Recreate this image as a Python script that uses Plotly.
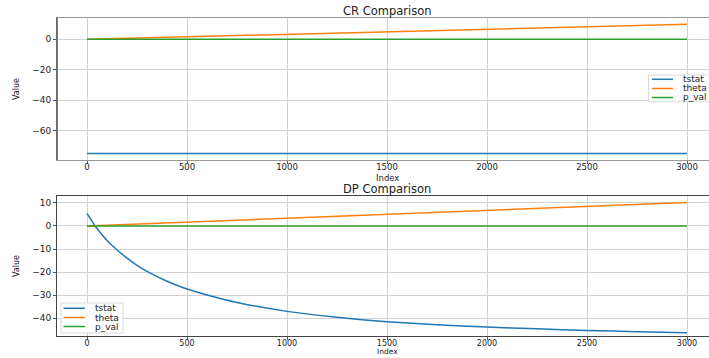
import plotly.graph_objects as go

# ---------------- data ----------------
series_names = ["tstat", "theta", "p_val"]
series_colors = ["#1f77b4", "#ff7f0e", "#2ca02c"]

# CR comparison (constant / linear series)
cr_index = [0, 3000]
cr_tstat = [-75.0, -75.0]
cr_theta = [0.0, 9.9]
cr_pval = [0.0, 0.0]

# DP comparison
dp_index = [0, 25, 40, 50, 75, 100, 145, 200, 250, 300, 400, 500, 600, 750,
            1000, 1250, 1500, 1750, 2000, 2250, 2500, 2750, 3000]
dp_tstat = [5.5, 2.1, 0.0, -1.1, -3.8, -6.3, -10.0, -14.0, -17.1, -19.7, -24.0,
            -27.4, -30.0, -33.2, -37.1, -39.7, -41.6, -42.9, -43.9, -44.7,
            -45.4, -45.9, -46.4]
dp_theta_index = [0, 3000]
dp_theta = [0.0, 10.2]
dp_pval_index = [0, 3000]
dp_pval = [0.0, 0.0]

x_ticks = [0, 500, 1000, 1500, 2000, 2500, 3000]
cr_y_ticks = [0, -20, -40, -60]
dp_y_ticks = [10, 0, -10, -20, -30, -40]

# ---------------- layout helpers ----------------
W, H = 709, 358
FONT = "DejaVu Sans"
TXT = "#222222"


def px(x):
    return x / W


def py(y):
    return 1 - y / H


fig = go.Figure()

lw = 1.5
fig.add_trace(go.Scatter(x=cr_index, y=cr_tstat, mode="lines", name=series_names[0],
                         line=dict(color=series_colors[0], width=lw), xaxis="x", yaxis="y"))
fig.add_trace(go.Scatter(x=cr_index, y=cr_theta, mode="lines", name=series_names[1],
                         line=dict(color=series_colors[1], width=lw), xaxis="x", yaxis="y"))
fig.add_trace(go.Scatter(x=cr_index, y=cr_pval, mode="lines", name=series_names[2],
                         line=dict(color=series_colors[2], width=lw), xaxis="x", yaxis="y"))

fig.add_trace(go.Scatter(x=dp_index, y=dp_tstat, mode="lines", name=series_names[0],
                         line=dict(color=series_colors[0], width=lw, shape="spline", smoothing=0.6),
                         xaxis="x2", yaxis="y2"))
fig.add_trace(go.Scatter(x=dp_theta_index, y=dp_theta, mode="lines", name=series_names[1],
                         line=dict(color=series_colors[1], width=lw), xaxis="x2", yaxis="y2"))
fig.add_trace(go.Scatter(x=dp_pval_index, y=dp_pval, mode="lines", name=series_names[2],
                         line=dict(color=series_colors[2], width=lw), xaxis="x2", yaxis="y2"))

x_dom = [px(57), 1.0]
top_dom = [py(160), py(17.7)]
bot_dom = [py(336), py(196.3)]

tickfont = dict(family=FONT, size=9, color=TXT)
grid_c = "#d2d2d2"

common_x = dict(range=[-150, 3110], tickvals=x_ticks, showgrid=True, gridcolor=grid_c,
                gridwidth=1, zeroline=False, ticks="outside", ticklen=3, tickcolor="#555",
                showline=True, mirror=True, automargin=False, domain=x_dom,
                ticklabelstandoff=-4)
common_y = dict(showgrid=True, gridcolor=grid_c, gridwidth=1, zeroline=False,
                ticks="outside", ticklen=3, tickcolor="#555", tickfont=tickfont,
                showline=True, mirror=True, automargin=False)

fig.update_layout(
    width=W, height=H,
    margin=dict(l=0, r=0, t=0, b=0),
    paper_bgcolor="white", plot_bgcolor="white",
    showlegend=False,
    hovermode=False,
    font=dict(family=FONT, size=9, color=TXT),
    xaxis=dict(**common_x, anchor="y", linecolor="#999999",
               tickfont=dict(family=FONT, size=8.5, color=TXT)),
    yaxis=dict(**common_y, domain=top_dom, range=[-79.25, 14.2], tickvals=cr_y_ticks,
               anchor="x", linecolor="#999999"),
    xaxis2=dict(**common_x, anchor="y2", linecolor="#444444",
                tickfont=dict(family=FONT, size=8, color=TXT)),
    yaxis2=dict(**common_y, domain=bot_dom, range=[-47.8, 12.9], tickvals=dp_y_ticks,
                anchor="x2", linecolor="#444444"),
)

# left spine of top subplot drawn darker
fig.add_shape(type="line", xref="paper", yref="paper", x0=px(57), x1=px(57),
              y0=top_dom[0], y1=top_dom[1], line=dict(color="#555555", width=1.5))

annos = []
# titles
for text, y in [("CR Comparison", 10.5), ("DP Comparison", 188.5)]:
    annos.append(dict(text=text, x=px(387), y=py(y), xref="paper", yref="paper",
                      showarrow=False, xanchor="center", yanchor="middle",
                      font=dict(family=FONT, size=11.5, color=TXT)))
# x labels
annos.append(dict(text="Index", x=px(387), y=py(178), xref="paper", yref="paper",
                  showarrow=False, xanchor="center", yanchor="middle",
                  font=dict(family=FONT, size=8.5, color=TXT)))
annos.append(dict(text="Index", x=px(387), y=py(358), xref="paper", yref="paper",
                  showarrow=False, xanchor="center", yanchor="bottom",
                  font=dict(family=FONT, size=7.5, color=TXT)))
# y labels
for y in [89, 266]:
    annos.append(dict(text="Value", x=px(16), y=py(y), xref="paper", yref="paper",
                      showarrow=False, xanchor="center", yanchor="middle", textangle=-90,
                      font=dict(family=FONT, size=8, color=TXT)))


# custom compact legends (matplotlib style)
def add_legend(box, line_x, rows_y, text_x):
    x0, y0, x1, y1 = box
    fig.add_shape(type="rect", xref="paper", yref="paper",
                  x0=px(x0), x1=px(x1), y0=py(y1), y1=py(y0),
                  line=dict(color="#d9d9d9", width=1), fillcolor="rgba(255,255,255,0.85)")
    for name, color, ry in zip(series_names, series_colors, rows_y):
        fig.add_shape(type="line", xref="paper", yref="paper",
                      x0=px(line_x[0]), x1=px(line_x[1]), y0=py(ry), y1=py(ry),
                      line=dict(color=color, width=1.5))
        annos.append(dict(text=name, x=px(text_x), y=py(ry), xref="paper", yref="paper",
                          showarrow=False, xanchor="left", yanchor="middle",
                          font=dict(family=FONT, size=9, color=TXT)))


add_legend((648.5, 75, 712, 101.7), (652, 673), (79.3, 88.5, 97.5), 681)
add_legend((61, 303, 123, 333), (63.5, 85), (308.3, 317.5, 326.5), 93)

fig.update_layout(annotations=annos)

fig.write_html(
    "out.html",
    config={"displayModeBar": False, "staticPlot": True},
    post_script="document.body.style.margin='0px';"
                "document.documentElement.style.overflow='hidden';",
)
